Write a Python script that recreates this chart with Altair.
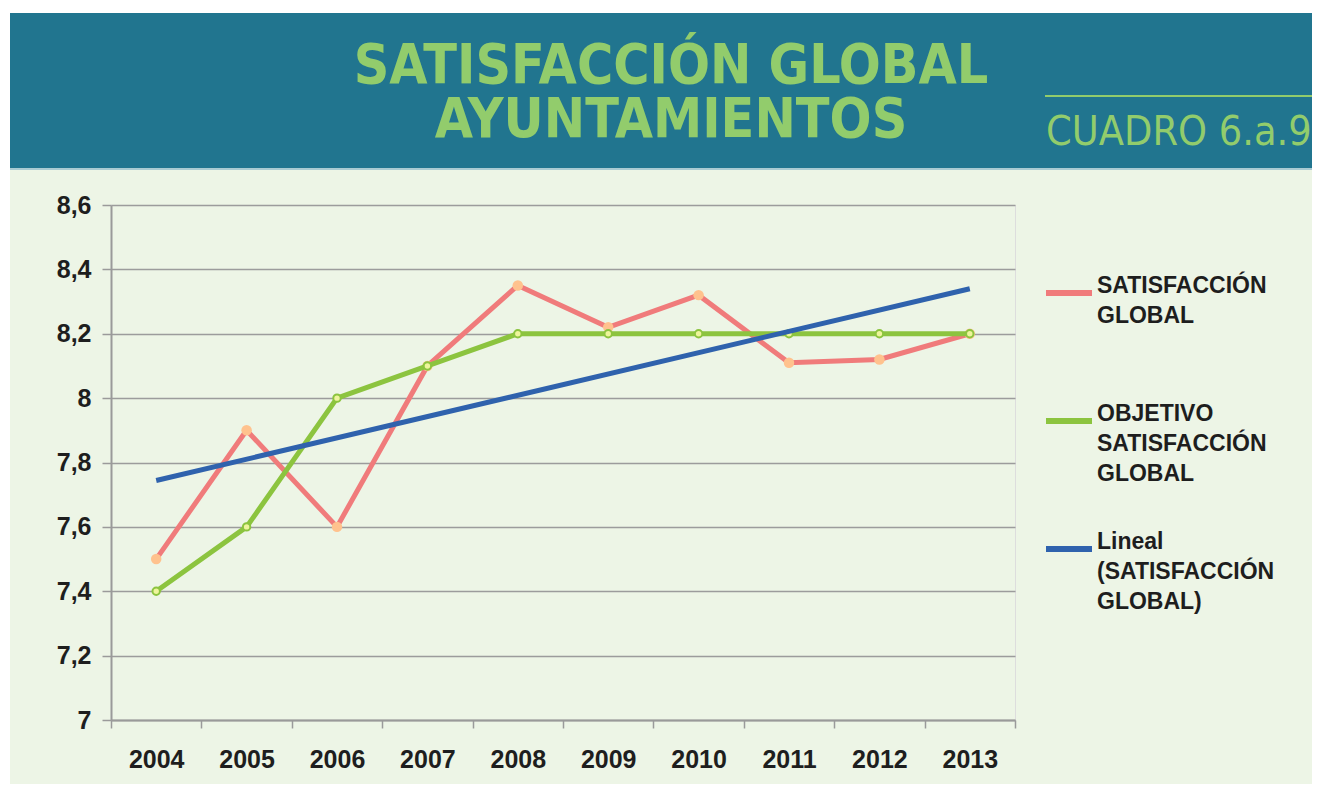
import altair as alt
import pandas as pd

# ---- data ----
years = ["2004", "2005", "2006", "2007", "2008", "2009", "2010", "2011", "2012", "2013"]
satisfaccion = [7.5, 7.9, 7.6, 8.1, 8.35, 8.22, 8.32, 8.11, 8.12, 8.2]
objetivo = [7.4, 7.6, 8.0, 8.1, 8.2, 8.2, 8.2, 8.2, 8.2, 8.2]
series_names = ["SATISFACCIÓN GLOBAL", "OBJETIVO SATISFACCIÓN GLOBAL", "Lineal (SATISFACCIÓN GLOBAL)"]
legend_lines = [["SATISFACCIÓN", "GLOBAL"], ["OBJETIVO", "SATISFACCIÓN", "GLOBAL"], ["Lineal", "(SATISFACCIÓN", "GLOBAL)"]]
y_ticks = [7.0, 7.2, 7.4, 7.6, 7.8, 8.0, 8.2, 8.4, 8.6]
title_lines = ["SATISFACCIÓN GLOBAL", "AYUNTAMIENTOS"]
cuadro = "CUADRO 6.a.9"

# ---- style ----
PINK, GREEN, BLUE = "#F07B7B", "#8CC43F", "#2F62AD"
PINK_PT, GREEN_PT = "#FFC28E", "#EEF59C"
TEAL, LIGHT_GREEN, PLOT_BG = "#21758F", "#EDF5E6", "#DFEBF3"
TITLE_GREEN = "#92CC6C"
TEXT = "#1E1E1E"
FONT = "Liberation Sans"
NARROW = "Liberation Sans Narrow, DejaVu Sans Condensed, sans-serif"

W, H = 904, 515

rows = []
for i, yr in enumerate(years):
    rows.append({"idx": i, "year": yr, "series": series_names[0], "value": satisfaccion[i]})
    rows.append({"idx": i, "year": yr, "series": series_names[1], "value": objetivo[i]})
df = pd.DataFrame(rows)

years_js = "[" + ",".join("'%s'" % y for y in years) + "]"
x_label_expr = "datum.value < %d ? %s[datum.value + 0.5] : ''" % (len(years) - 1, years_js)
legend_expr = " : ".join(
    "datum.label == '%s' ? [%s]" % (n, ",".join("'%s'" % l for l in ls))
    for n, ls in zip(series_names, legend_lines)
) + " : datum.label"

x_enc = alt.X(
    "idx:Q",
    scale=alt.Scale(domain=[-0.5, len(years) - 0.5], nice=False, zero=False),
    axis=alt.Axis(
        title=None,
        values=[i - 0.5 for i in range(len(years) + 1)],
        labelExpr=x_label_expr,
        labelOffset=W / len(years) / 2,
        labelOverlap=False,
        labelFlush=False,
        labelBound=False,
        grid=False,
        domainColor="#9A9A9A",
        domainWidth=2,
        tickColor="#9A9A9A",
        tickWidth=1.5,
        tickSize=8,
        labelPadding=19,
        labelFont=FONT,
        labelFontSize=25,
        labelFontWeight="bold",
        labelColor=TEXT,
    ),
)
y_enc = alt.Y(
    "value:Q",
    scale=alt.Scale(domain=[7, 8.6], nice=False, zero=False),
    axis=alt.Axis(
        title=None,
        values=y_ticks,
        format=".1~f",
        labelExpr="replace(datum.label, '.', ',')",
        grid=True,
        gridColor="#9C9C9C",
        gridWidth=1.5,
        domainColor="#9A9A9A",
        domainWidth=2,
        tickColor="#9A9A9A",
        tickWidth=1.5,
        tickSize=9,
        labelPadding=11,
        labelFont=FONT,
        labelFontSize=25,
        labelFontWeight="bold",
        labelColor=TEXT,
    ),
)
color_enc = alt.Color(
    "series:N",
    scale=alt.Scale(domain=series_names, range=[PINK, GREEN, BLUE]),
    legend=alt.Legend(
        title=None,
        orient="none",
        legendX=932,
        legendY=62,
        padding=0,
        symbolType="stroke",
        symbolSize=2116,
        symbolStrokeWidth=6,
        labelExpr=legend_expr,
        labelFont=FONT,
        labelFontSize=23,
        labelFontWeight="bold",
        labelColor=TEXT,
        labelLimit=500,
        labelOffset=2,
        labelBaseline="alphabetic",
        gridAlign="all",
        rowPadding=37,
    ),
)

base = alt.Chart(df)
line_sat = base.transform_filter(alt.datum.series == series_names[0]).mark_line(strokeWidth=5).encode(x=x_enc, y=y_enc, color=color_enc)
pts_sat = base.transform_filter(alt.datum.series == series_names[0]).mark_point(
    filled=True, size=110, color=PINK_PT, opacity=1
).encode(x=x_enc, y=y_enc)
line_obj = base.transform_filter(alt.datum.series == series_names[1]).mark_line(strokeWidth=5).encode(x=x_enc, y=y_enc, color=color_enc)
pts_obj = base.transform_filter(alt.datum.series == series_names[1]).mark_point(
    filled=False, size=55, fill=GREEN_PT, stroke=GREEN, strokeWidth=2, opacity=1, fillOpacity=1
).encode(x=x_enc, y=y_enc)
trend = (
    base.transform_filter(alt.datum.series == series_names[0])
    .transform_regression("idx", "value", method="linear")
    .transform_calculate(series="'%s'" % series_names[2])
    .mark_line(strokeWidth=5)
    .encode(x=x_enc, y=y_enc, color=color_enc)
)

one = alt.Data(values=[{"k": 1}])
deco = []
# white page strip at top/left and the header band
deco.append(alt.Chart(one).mark_rect(color="white").encode(
    x=alt.value(-103), x2=alt.value(1201), y=alt.value(-197), y2=alt.value(-192)))
deco.append(alt.Chart(one).mark_rect(color="white").encode(
    x=alt.value(-103), x2=alt.value(-101), y=alt.value(-197), y2=alt.value(579)))
deco.append(alt.Chart(one).mark_rect(color=TEAL).encode(
    x=alt.value(-101), x2=alt.value(1201), y=alt.value(-192), y2=alt.value(-37)))
deco.append(alt.Chart(one).mark_rule(color="#A9CBD2", strokeWidth=2).encode(
    x=alt.value(-101), x2=alt.value(1201), y=alt.value(-36)))
deco.append(alt.Chart(one).mark_rule(color=TITLE_GREEN, strokeWidth=2).encode(
    x=alt.value(934), x2=alt.value(1201), y=alt.value(-109)))
deco.append(alt.Chart(one).mark_text(
    text=title_lines, font=NARROW, fontSize=55, fontWeight="bold", color=TITLE_GREEN,
    lineHeight=54, align="center", baseline="alphabetic").encode(x=alt.value(560), y=alt.value(-122)))
deco.append(alt.Chart(one).mark_text(
    text=cuadro, font=NARROW, fontSize=41, fontWeight="normal", color=TITLE_GREEN,
    align="left", baseline="alphabetic").encode(x=alt.value(935), y=alt.value(-60)))

chart = alt.layer(
    *deco, line_sat, pts_sat, line_obj, pts_obj, trend
).properties(
    width=W,
    height=H,
    autosize="none",
    padding={"left": 103, "top": 197, "right": 297, "bottom": 64},
    background=LIGHT_GREEN,
).configure_view(
    fill=PLOT_BG, stroke=None
).configure(
    style={"guide-label": {"lineHeight": 30}}
).resolve_scale(color="shared")

chart.save("out.html", embed_options={"renderer": "svg", "actions": False})
